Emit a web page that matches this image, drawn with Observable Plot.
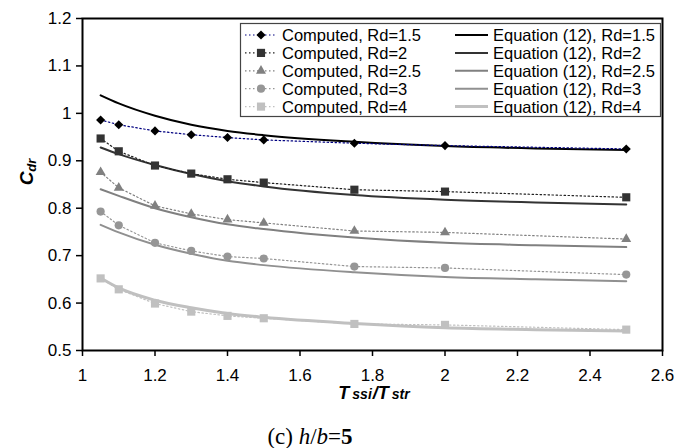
<!DOCTYPE html>
<html>
<head>
<meta charset="utf-8">
<script src="https://cdn.jsdelivr.net/npm/d3@7"></script>
<script src="https://cdn.jsdelivr.net/npm/@observablehq/plot@0.6"></script>
<style>
  body { margin: 0; background: #fff; }
  #wrap { position: relative; width: 694px; height: 448px; background: #fff; }
  #cap { position: relative; height: 43px; font-family: "Liberation Serif", "Times New Roman", serif; font-size: 23px; color: #000; }
  #cap span { position: absolute; left: 310px; top: 32px; transform: translate(-50%, -50%); white-space: nowrap; }
</style>
</head>
<body>
<div id="wrap">
  <div id="chart"></div>
  <div id="cap"><span>(c) <i>h</i>/<i>b</i>=<b>5</b></span></div>
</div>
<script>
// ---- data ----
const rdLabels = ["1.5", "2", "2.5", "3", "4"];
const xComputed = [1.05, 1.1, 1.2, 1.3, 1.4, 1.5, 1.75, 2.0, 2.5];
const computedRd15 = [0.986, 0.976, 0.963, 0.955, 0.949, 0.944, 0.937, 0.932, 0.925];
const computedRd2  = [0.947, 0.920, 0.890, 0.873, 0.861, 0.854, 0.839, 0.835, 0.823];
const computedRd25 = [0.876, 0.843, 0.805, 0.788, 0.776, 0.769, 0.752, 0.749, 0.735];
const computedRd3  = [0.793, 0.764, 0.727, 0.710, 0.698, 0.694, 0.677, 0.674, 0.660];
const computedRd4  = [0.652, 0.629, 0.599, 0.582, 0.573, 0.568, 0.556, 0.554, 0.544];

const xEquation = [1.05, 1.1, 1.2, 1.3, 1.4, 1.5, 1.75, 2.0, 2.25, 2.5];
const equationRd15 = [1.038, 1.021, 0.995, 0.976, 0.963, 0.954, 0.940, 0.931, 0.926, 0.923];
const equationRd2  = [0.928, 0.914, 0.891, 0.872, 0.857, 0.846, 0.828, 0.818, 0.812, 0.808];
const equationRd25 = [0.840, 0.826, 0.800, 0.781, 0.766, 0.756, 0.738, 0.727, 0.722, 0.718];
const equationRd3  = [0.765, 0.749, 0.723, 0.704, 0.689, 0.680, 0.665, 0.655, 0.650, 0.646];
const equationRd4  = [0.653, 0.632, 0.606, 0.590, 0.578, 0.570, 0.557, 0.548, 0.544, 0.541];

const xTicks = [1, 1.2, 1.4, 1.6, 1.8, 2, 2.2, 2.4, 2.6];
const yTicks = [0.5, 0.6, 0.7, 0.8, 0.9, 1, 1.1, 1.2];

// ---- styles ----
const computedSeries = [computedRd15, computedRd2, computedRd25, computedRd3, computedRd4];
const equationSeries = [equationRd15, equationRd2, equationRd25, equationRd3, equationRd4];
const markerColors = ["#000000", "#333333", "#808080", "#969696", "#c0c0c0"];
const dotLineColors = ["#000080", "#222222", "#808080", "#969696", "#c0c0c0"];
const eqColors = ["#000000", "#333333", "#808080", "#909090", "#c0c0c0"];
const eqWidths = [2, 2, 2, 2, 3];
const symbols = ["diamond2", "square", "triangle", "circle", "square"];
const symbolR = [4.1, 4.6, 3.7, 4.1, 4.6];
const d3Symbols = {diamond2: d3.symbolDiamond2, square: d3.symbolSquare, triangle: d3.symbolTriangle, circle: d3.symbolCircle};

const computedRows = rdLabels.map((rd, i) => xComputed.map((x, j) => ({rd, x, y: computedSeries[i][j]})));
const equationRows = rdLabels.map((rd, i) => xEquation.map((x, j) => ({rd, x, y: equationSeries[i][j]})));

const fmt = d => String(+d.toFixed(1));

const marks = [];
equationRows.forEach((rows, i) => {
  marks.push(Plot.line(rows, {x: "x", y: "y", stroke: eqColors[i], strokeWidth: eqWidths[i], curve: "monotone-x"}));
});
computedRows.forEach((rows, i) => {
  marks.push(Plot.line(rows, {x: "x", y: "y", stroke: dotLineColors[i], strokeWidth: 1.2, strokeDasharray: "1.5,2.5"}));
});
computedRows.forEach((rows, i) => {
  marks.push(Plot.dot(rows, {x: "x", y: "y", symbol: () => symbols[i], r: symbolR[i], fill: markerColors[i], stroke: "none"}));
});

const svg = Plot.plot({
  width: 694,
  height: 405,
  marginLeft: 82,
  marginRight: 32,
  marginTop: 18,
  marginBottom: 55,
  style: {fontFamily: "'Liberation Sans', Arial, sans-serif", fontSize: "17px", color: "#000", background: "#fff"},
  x: {domain: [1, 2.6], label: null},
  y: {domain: [0.5, 1.2], label: null},
  marks: [
    ...marks,
    Plot.axisX({ticks: xTicks, tickFormat: fmt, tickSize: 6, tickPadding: 12, label: null, strokeWidth: 1.5}),
    Plot.axisY({ticks: yTicks, tickFormat: fmt, tickSize: 6, tickPadding: 5, label: null, strokeWidth: 1.5}),
    Plot.frame({stroke: "#000", strokeWidth: 2})
  ]
});

// ---- axis titles ----
const s = d3.select(svg);
const ff = "'Liberation Sans', Arial, sans-serif";
const yt = s.append("text")
  .attr("transform", "translate(33,172) rotate(-90)")
  .attr("text-anchor", "middle")
  .attr("font-family", ff).attr("font-weight", "bold").attr("font-style", "italic").attr("fill", "#000");
yt.append("tspan").attr("font-size", 19).text("C");
yt.append("tspan").attr("font-size", 13).attr("dy", 3).text("dr");

const xt = s.append("text")
  .attr("transform", "translate(374,399)")
  .attr("text-anchor", "middle")
  .attr("font-family", ff).attr("font-weight", "bold").attr("font-style", "italic").attr("fill", "#000");
xt.append("tspan").attr("font-size", 18).text("T");
xt.append("tspan").attr("font-size", 14).attr("dx", 3).text("ssi");
xt.append("tspan").attr("font-size", 18).attr("dx", 1).text("/T");
xt.append("tspan").attr("font-size", 14).attr("dx", 3).text("str");

// ---- legend ----
const lg = s.append("g").attr("font-family", ff).attr("font-size", 16.5).attr("fill", "#000").attr("text-anchor", "start");
lg.append("rect").attr("x", 240.5).attr("y", 23.5).attr("width", 420).attr("height", 93)
  .attr("fill", "#fff").attr("stroke", "#444").attr("stroke-width", 1.2);
rdLabels.forEach((rd, i) => {
  const yy = 35 + i * 17.9;
  lg.append("line").attr("x1", 245).attr("x2", 277).attr("y1", yy).attr("y2", yy)
    .attr("stroke", dotLineColors[i]).attr("stroke-width", 1.2).attr("stroke-dasharray", "1.5,2.5");
  lg.append("path").attr("transform", `translate(261,${yy})`)
    .attr("d", d3.symbol(d3Symbols[symbols[i]], Math.PI * symbolR[i] * symbolR[i])())
    .attr("fill", markerColors[i]);
  lg.append("text").attr("x", 282).attr("y", yy).attr("dy", "0.36em").text(`Computed, Rd=${rd}`);
  lg.append("line").attr("x1", 455).attr("x2", 488).attr("y1", yy).attr("y2", yy)
    .attr("stroke", eqColors[i]).attr("stroke-width", eqWidths[i]);
  lg.append("text").attr("x", 493).attr("y", yy).attr("dy", "0.36em").text(`Equation (12), Rd=${rd}`);
});

document.getElementById("chart").appendChild(svg);
</script>
</body>
</html>
